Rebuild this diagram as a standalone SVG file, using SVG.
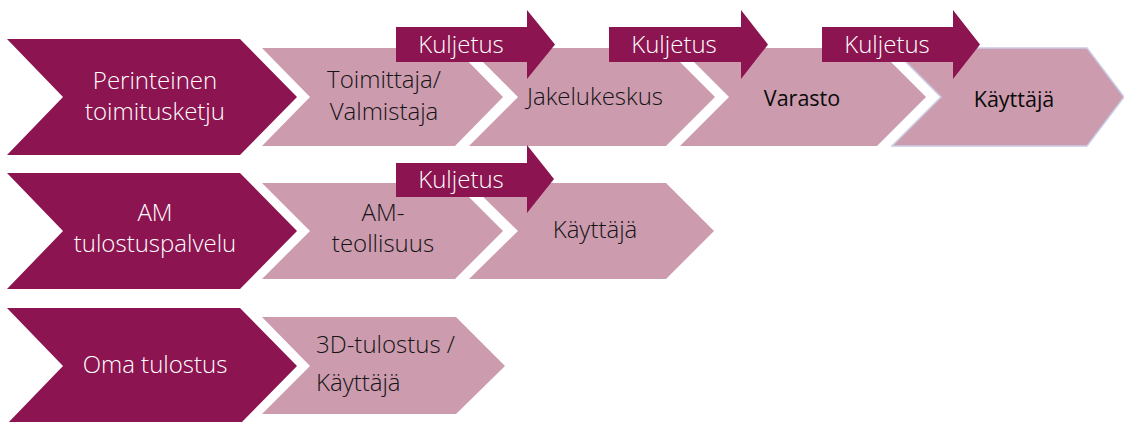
<svg xmlns="http://www.w3.org/2000/svg" width="1124" height="422" viewBox="0 0 1124 422">
<style>
.dark{fill:#8C1450}
.light{fill:#CC9BAE}
.arrow{fill:#8C1450}
.tw{font-family:"Open Sans","Noto Sans",sans-serif;font-weight:300;font-size:24px;fill:#ffffff;text-anchor:middle}
.tb{font-family:"Open Sans","Noto Sans",sans-serif;font-weight:300;font-size:24px;fill:#141414;text-anchor:middle}
.tl{font-family:"Open Sans","Noto Sans",sans-serif;font-weight:300;font-size:24px;fill:#141414;text-anchor:start}
.tk{font-family:"Open Sans","Noto Sans",sans-serif;font-weight:300;font-size:24px;fill:#ffffff;text-anchor:middle}
.ts{font-family:"Open Sans","Noto Sans",sans-serif;font-size:21.5px;fill:#0a0a0a;text-anchor:middle}
</style>
<rect width="1124" height="422" fill="#ffffff"/>
<!-- Row 1 -->
<g id="perinteinen">
<polygon class="dark" points="7,39 240,39 297,97 240,155 7,155 63,97"/>
<text class="tw" x="155" y="89">Perinteinen</text>
<text class="tw" x="155" y="120">toimitusketju</text>
</g>
<g id="toimittaja">
<polygon class="light" points="262,48 455,48 503,97 455,146 262,146 310,97"/>
<text class="tb" x="384" y="88">Toimittaja/</text>
<text class="tb" x="384" y="120">Valmistaja</text>
</g>
<g id="jakelukeskus">
<polygon class="light" points="469,48 666,48 715,97 666,146 469,146 518,97"/>
<text class="tb" x="595" y="105">Jakelukeskus</text>
</g>
<g id="varasto">
<polygon class="light" points="680,48 877,48 926,97 877,146 680,146 729,97"/>
<text class="ts" x="802" y="106">Varasto</text>
</g>
<g id="kayttaja1">
<polygon class="light" points="892,48 1087,48 1124,97 1087,146 892,146 941,97" stroke="#C9CCE4" stroke-width="1.5"/>
<text class="ts" x="1014" y="107">Käyttäjä</text>
</g>
<!-- Row 2 -->
<g id="am-tulostuspalvelu">
<polygon class="dark" points="7,173 240,173 297,231 240,289 7,289 63,231"/>
<text class="tw" x="155" y="221">AM</text>
<text class="tw" x="155" y="252">tulostuspalvelu</text>
</g>
<g id="am-teollisuus">
<polygon class="light" points="262,183 455,183 503,231 455,279 262,279 310,231"/>
<text class="tb" x="383" y="221">AM-</text>
<text class="tb" x="383" y="252">teollisuus</text>
</g>
<g id="kayttaja2">
<polygon class="light" points="469,183 666,183 714,231 666,279 469,279 518,231"/>
<text class="tb" x="595" y="238">Käyttäjä</text>
</g>
<!-- Row 3 -->
<g id="oma-tulostus">
<polygon class="dark" points="7,308 240,308 297,366 240,424 7,424 63,366"/>
<text class="tw" x="155" y="373">Oma tulostus</text>
</g>
<g id="tulostus-kayttaja">
<polygon class="light" points="262,317 456,317 505,366 456,414 262,414 310,366"/>
<text class="tl" x="316" y="353">3D-tulostus /</text>
<text class="tl" x="316" y="391">Käyttäjä</text>
</g>
<!-- Connectors: Kuljetus arrows -->
<g id="connectors">
<g id="kuljetus1">
<polygon class="arrow" points="396,27 527,27 527,10 555,44.5 527,79 527,62 396,62"/>
<text class="tk" x="461" y="53">Kuljetus</text>
</g>
<g id="kuljetus2">
<polygon class="arrow" points="609,27 741,27 741,10 768,44.5 741,79 741,62 609,62"/>
<text class="tk" x="674" y="53">Kuljetus</text>
</g>
<g id="kuljetus3">
<polygon class="arrow" points="822,27 953,27 953,10 980,44.5 953,79 953,62 822,62"/>
<text class="tk" x="887" y="53">Kuljetus</text>
</g>
<g id="kuljetus4">
<polygon class="arrow" points="396,163 527,163 527,145 554,179 527,213 527,197 396,197"/>
<text class="tk" x="461" y="188">Kuljetus</text>
</g>
</g>
</svg>
